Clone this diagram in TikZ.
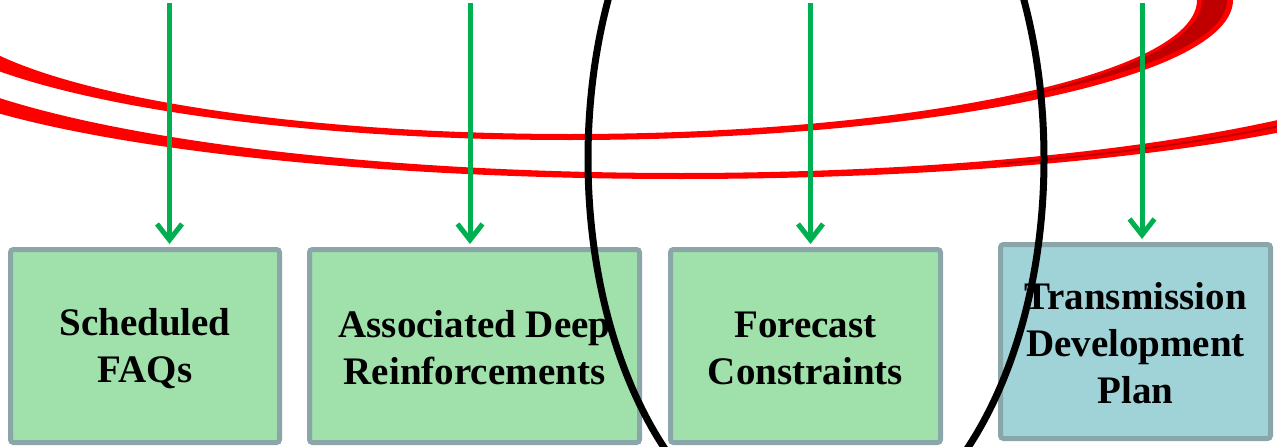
\documentclass[tikz,border=0pt]{standalone}
\usepackage{fontspec}
\setmainfont{Liberation Serif}
\usetikzlibrary{arrows.meta}
\definecolor{boxgreen}{HTML}{A0E0AA}
\definecolor{boxblue}{HTML}{A0D3D8}
\definecolor{boxedge}{HTML}{8AA6A8}
\definecolor{flowgreen}{HTML}{00B050}
\definecolor{ringred}{HTML}{FF0000}
\definecolor{ringdark}{HTML}{C00000}
\newcommand{\lstrut}{\rule[-2pt]{0pt}{34pt}}
\begin{document}
\begin{tikzpicture}[x=1pt,y=-1pt,
  box/.style={draw=boxedge, line width=5pt, rounded corners=3pt, inner sep=0pt,
    align=center, font=\fontsize{39}{47}\selectfont\bfseries},
  flow/.style={draw=flowgreen, line width=5pt, line join=miter,
    -{Straight Barb[length=16pt,width=25pt]}, shorten >=3pt},
  ring/.style={fill=ringred, even odd rule},
  ringshade/.style={fill=ringdark},
  hoop/.style={draw=black, line width=7pt}
]
\useasboundingbox (0,0) rectangle (1277,447);
\begin{scope}
\clip (0,0) rectangle (1277,447);
% upper red band (ribbon)
\path[ring] (570,0) ellipse [x radius=663, y radius=140]
            (570,0) ellipse [x radius=627, y radius=134];
\path[ringshade] plot[domain=-5:49.8, samples=60] ({570+657*cos(\x)}, {133*sin(\x)})
  -- plot[domain=47.86:-5, samples=60] ({570+632*cos(\x)}, {137*sin(\x)}) -- cycle;
% lower red band
\path[ring] plot[domain=-10:1290, samples=140] (\x, {15+158*sqrt(1-((\x-680)/800)^2)})
  -- plot[domain=1290:-10, samples=140] (\x, {41+138*sqrt(1-((\x-680)/800)^2)}) -- cycle;
\draw[ringdark, line width=1.8pt] plot[domain=1000:1290, samples=40] (\x, {28+148*sqrt(1-((\x-680)/800)^2)});
\end{scope}
% boxes
\node[box, fill=boxgreen, minimum width=269pt, minimum height=193pt] (b1) at (145,346) {\lstrut Scheduled\\\lstrut FAQs};
\node[box, fill=boxgreen, minimum width=330pt, minimum height=193pt] (b2) at (474.5,346) {\lstrut Associated Deep\\\lstrut Reinforcements};
\node[box, fill=boxgreen, minimum width=270pt, minimum height=193pt] (b3) at (805.5,346) {\lstrut Forecast\\\lstrut Constraints};
\node[box, fill=boxblue, minimum width=270pt, minimum height=194pt] (b4) at (1135.5,341.5) {\lstrut Transmission\\\lstrut Development\\\lstrut Plan};
% arrows
\coordinate (s1) at (169.5,3);
\coordinate (s2) at (470,3);
\coordinate (s3) at (810.5,3);
\coordinate (s4) at (1142,3);
\draw[flow] (s1) -- (s1 |- b1.north);
\draw[flow] (s2) -- (s2 |- b2.north);
\draw[flow] (s3) -- (s3 |- b3.north);
\draw[flow] (s4) -- (s4 |- b4.north);
% black ellipse
\begin{scope}
\clip (0,0) rectangle (1277,447);
\draw[hoop] (816,159) ellipse [x radius=228, y radius=387];
\end{scope}
\end{tikzpicture}
\end{document}
